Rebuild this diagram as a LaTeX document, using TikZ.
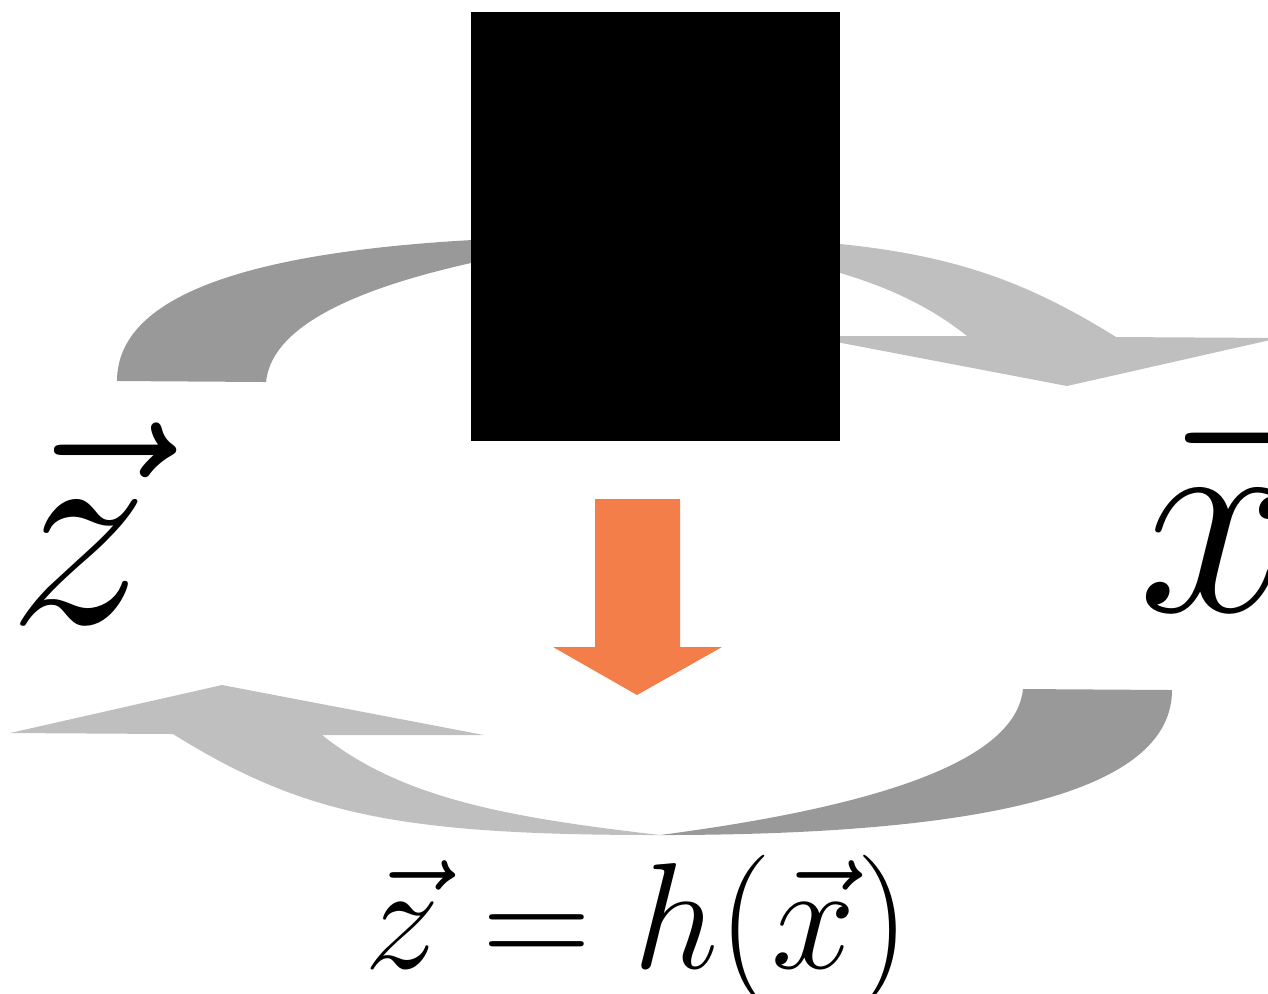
\RequirePackage{fix-cm}
\documentclass[tikz,border=0pt]{standalone}
\definecolor{tailgray}{RGB}{153,153,153}
\definecolor{headgray}{RGB}{191,191,191}
\definecolor{maporange}{RGB}{244,126,74}
\begin{document}
\begin{tikzpicture}[x=0.01cm, y=-0.01cm,
  tailpart/.style={fill=tailgray},
  headpart/.style={fill=headgray},
  biglabel/.style={inner sep=0pt, anchor=base west, font=\fontsize{80}{96}\selectfont},
  eqlabel/.style={inner sep=0pt, anchor=base west, font=\fontsize{43}{52}\selectfont}]
  \useasboundingbox (0,0) rectangle (1268,993);
  \clip (0,0) rectangle (1268,993);
  % Curved arrows (lower one, upper one is the same turned half round)
  \foreach \turn in {0,180} {
    \begin{scope}[rotate around={\turn:(644.5,535.5)}]
      % dark tail
      \fill[tailpart] (1023,689) -- (1172,690)
        .. controls (1172,785) and (1010,835) .. (660,835)
        .. controls (920,801) and (1017,749) .. (1023,689) -- cycle;
      % light shaft and head
      \fill[headpart] (173,734) -- (10,733) -- (222,685) -- (484,735) -- (322,735)
        .. controls (402,799) and (510,817.6) .. (660,835)
        .. controls (400,835) and (303,815) .. (173,734) -- cycle;
    \end{scope}
  }
  % Black square
  \fill[black] (471,12) rectangle (840,441);
  % Orange arrow
  \fill[maporange] (595,499) -- (680,499) -- (680,647) -- (722,647) -- (637,695)
    -- (553,647) -- (595,647) -- cycle;
  % Labels
  \node[biglabel] (zlabel) at (8,623) {$\vec{z}$};
  \node[biglabel] (xlabel) at (1138,611) {$\vec{x}$};
  \node[eqlabel] (hformula) at (364,968) {$\vec{z} = h(\vec{x})$};
\end{tikzpicture}
\end{document}
